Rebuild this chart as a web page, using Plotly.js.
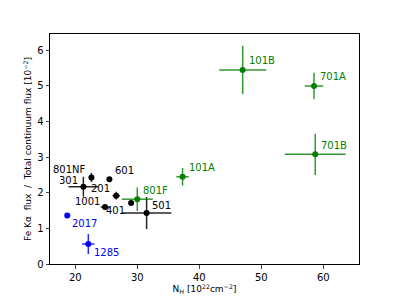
<!DOCTYPE html>
<html>
<head>
<meta charset="utf-8">
<script src="https://cdn.plot.ly/plotly-3.0.1.min.js"></script>
<style>html,body{margin:0;padding:0;background:#fff;}#chart{width:399px;height:298px;}</style>
</head>
<body>
<div id="chart"></div>
<script>
// Data
const blackLabels = ['301', '801NF', '601', '201', '1001', '401', '501'];
const blackNH = [21.3, 22.6, 25.5, 26.6, 24.8, 29.0, 31.5];
const blackRatio = [2.17, 2.43, 2.38, 1.92, 1.60, 1.71, 1.43];
const blackNHerr = [2.4, 0, 0, 0.6, 0.7, 0, 4.0];
const blackRatioErr = [0.28, 0.13, 0, 0.11, 0, 0, 0.45];

const greenLabels = ['801F', '101A', '101B', '701A', '701B'];
const greenNH = [30.0, 37.3, 47.0, 58.5, 58.7];
const greenRatio = [1.82, 2.45, 5.45, 5.00, 3.08];
const greenNHerr = [2.5, 1.0, 3.8, 1.5, 4.9];
const greenRatioErr = [0.33, 0.25, 0.68, 0.37, 0.58];

const blueLabels = ['2017', '1285'];
const blueNH = [18.7, 22.1];
const blueRatio = [1.36, 0.56];
const blueNHerr = [0, 1.0];
const blueRatioErr = [0, 0.28];

const xTicks = [20, 30, 40, 50, 60];
const yTicks = [0, 1, 2, 3, 4, 5, 6];

// Label placement (style): [xanchor, xshift, yshift]
const place = {
  '301': ['right', -3, 6], '801NF': ['right', -3, 8], '601': ['left', 4, 9],
  '201': ['right', -4, 7], '1001': ['right', -3, 6], '401': ['right', -4, -7],
  '501': ['left', 3, 8],
  '801F': ['left', 4, 9], '101A': ['left', 4, 9], '101B': ['left', 4, 9],
  '701A': ['left', 4, 9], '701B': ['left', 4, 9],
  '2017': ['left', 3, -8], '1285': ['left', 4, -8]
};

function series(x, y, ex, ey, color, errColor) {
  return {
    x: x, y: y, type: 'scatter', mode: 'markers',
    marker: {color: color, size: 6},
    error_x: {type: 'data', array: ex, visible: true, color: errColor, thickness: 1.5, width: 0},
    error_y: {type: 'data', array: ey, visible: true, color: errColor, thickness: 1.5, width: 0},
    showlegend: false, hoverinfo: 'skip'
  };
}

const BLACK = '#000000', GREEN = '#008000', BLUE = '#0000ff';
const traces = [
  series(blackNH, blackRatio, blackNHerr, blackRatioErr, BLACK, 'rgba(0,0,0,0.85)'),
  series(greenNH, greenRatio, greenNHerr, greenRatioErr, GREEN, 'rgba(0,128,0,0.8)'),
  series(blueNH, blueRatio, blueNHerr, blueRatioErr, BLUE, 'rgba(0,0,255,0.85)')
];

const annotations = [];
function addLabels(labels, xs, ys, color) {
  labels.forEach((t, i) => {
    const p = place[t];
    annotations.push({
      x: xs[i], y: ys[i], xref: 'x', yref: 'y', text: t, showarrow: false,
      xanchor: p[0], yanchor: 'middle', xshift: p[1], yshift: p[2],
      font: {family: 'DejaVu Sans', size: 10, color: color}
    });
  });
}
addLabels(blackLabels, blackNH, blackRatio, BLACK);
addLabels(greenLabels, greenNH, greenRatio, GREEN);
addLabels(blueLabels, blueNH, blueRatio, BLUE);

const layout = {
  width: 399, height: 298,
  margin: {l: 50, r: 40, t: 34, b: 34},
  paper_bgcolor: '#fff', plot_bgcolor: '#fff',
  font: {family: 'DejaVu Sans', size: 10, color: '#000'},
  xaxis: {
    range: [15.92, 65.76], tickvals: xTicks, ticktext: xTicks.map(String),
    showgrid: false, zeroline: false, showline: true, mirror: true,
    linecolor: '#000', linewidth: 1, ticks: 'outside', ticklen: 3.5, tickwidth: 1,
    tickfont: {size: 10},
    title: {text: 'N<sub>H</sub> [10<sup>22</sup>cm<sup>−2</sup>]', font: {size: 9}, standoff: 4}
  },
  yaxis: {
    range: [0, 6.46], tickvals: yTicks, ticktext: yTicks.map(String),
    showgrid: false, zeroline: false, showline: true, mirror: true,
    linecolor: '#000', linewidth: 1, ticks: 'outside', ticklen: 3.5, tickwidth: 1,
    tickfont: {size: 10},
    title: {text: 'Fe Kα  flux  /  Total continuum flux [10<sup>−2</sup>]', font: {size: 9}, standoff: 3}
  },
  annotations: annotations
};

Plotly.newPlot('chart', traces, layout, {staticPlot: true, displayModeBar: false});
</script>
</body>
</html>
